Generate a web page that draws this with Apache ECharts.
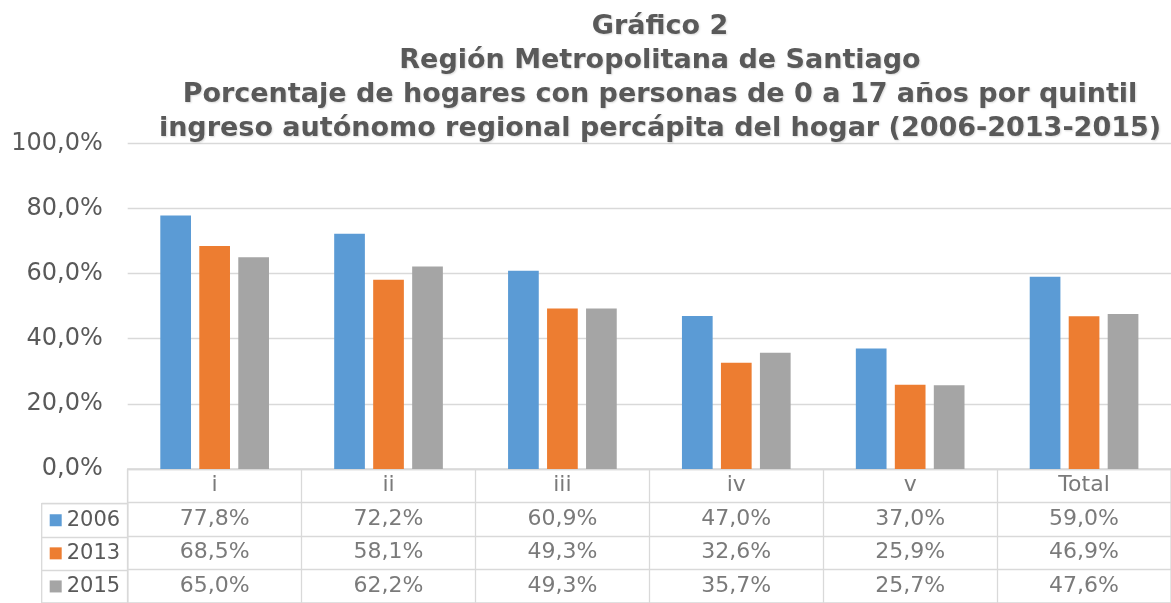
<!DOCTYPE html>
<html>
<head>
<meta charset="utf-8">
<script src="https://cdn.jsdelivr.net/npm/echarts@6/dist/echarts.min.js"></script>
<style>
  html, body { margin: 0; padding: 0; background: #fff; }
  #chart { width: 1171px; height: 603px; }
</style>
</head>
<body>
<div id="chart"></div>
<script>
// datos del gráfico
const categories = ['i', 'ii', 'iii', 'iv', 'v', 'Total'];
const years = ['2006', '2013', '2015'];
const values2006 = [77.8, 72.2, 60.9, 47.0, 37.0, 59.0];
const values2013 = [68.5, 58.1, 49.3, 32.6, 25.9, 46.9];
const values2015 = [65.0, 62.2, 49.3, 35.7, 25.7, 47.6];
const yTicks = [0, 20, 40, 60, 80, 100];
const titleLines = [
  'Gráfico 2',
  'Región Metropolitana de Santiago',
  'Porcentaje de hogares con personas de 0 a 17 años por quintil',
  'ingreso autónomo regional percápita del hogar (2006-2013-2015)'
];

const colors = ['#5B9BD5', '#ED7D31', '#A5A5A5'];
const textColor = '#595959';
const lineColor = '#D9D9D9';
const font = 'DejaVu Sans';

const fmt = v => v.toFixed(1).replace('.', ',') + '%';

// celdas de la tabla de datos
const seriesValues = [values2006, values2013, values2015];
const cells = [];
const cellText = [];
categories.forEach(c => {
  cells.push([c, 'header']);
  cellText.push(c);
});
seriesValues.forEach((vals, r) => {
  vals.forEach((v, i) => {
    cells.push([categories[i], years[r]]);
    cellText.push(fmt(v));
  });
});

const legendRich = { t: { fontSize: 21, fontFamily: font, color: textColor, padding: [0, 0, 0, 5] } };
colors.forEach((c, i) => {
  legendRich['m' + i] = { width: 12, height: 12, backgroundColor: c };
});

const chart = echarts.init(document.getElementById('chart'));
chart.setOption({
  animation: false,
  textStyle: { fontFamily: font },
  title: {
    text: titleLines.join('\n'),
    left: 660,
    top: 10,
    padding: 0,
    textAlign: 'center',
    textStyle: {
      fontSize: 27,
      fontWeight: 'bold',
      lineHeight: 34,
      color: textColor,
      fontFamily: font,
      textShadowColor: 'rgba(0,0,0,0.15)',
      textShadowBlur: 2,
      textShadowOffsetX: 1,
      textShadowOffsetY: 1
    }
  },
  grid: [
    { left: 127.7, right: -11.5, top: 143.3, height: 325.7 },
    { left: 127.7, right: -11.5, top: 469, height: 138.8, show: true, borderColor: lineColor, borderWidth: 1.3 },
    { left: 41.7, width: 86, top: 503.7, height: 104.1, show: true, borderColor: lineColor, borderWidth: 1.3 }
  ],
  xAxis: [
    {
      type: 'category', gridIndex: 0, data: categories,
      axisLine: { show: false }, axisTick: { show: false }, axisLabel: { show: false }
    },
    {
      type: 'category', gridIndex: 1, data: categories,
      axisLine: { show: false }, axisTick: { show: false }, axisLabel: { show: false },
      splitLine: { show: true, interval: 0, lineStyle: { color: lineColor, width: 1.3 } }
    },
    { type: 'value', gridIndex: 2, show: false, min: 0, max: 1 }
  ],
  yAxis: [
    {
      type: 'value', gridIndex: 0,
      min: yTicks[0], max: yTicks[yTicks.length - 1], interval: yTicks[1] - yTicks[0],
      axisLine: { show: false }, axisTick: { show: false },
      axisLabel: { formatter: v => fmt(v), fontSize: 24, color: textColor, margin: 25, fontFamily: font },
      splitLine: { lineStyle: { color: lineColor, width: 1.3 } }
    },
    {
      type: 'category', gridIndex: 1, data: ['header'].concat(years), inverse: true,
      axisLine: { show: false }, axisTick: { show: false }, axisLabel: { show: false },
      splitLine: { show: true, interval: 0, lineStyle: { color: lineColor, width: 1.3 } }
    },
    {
      type: 'category', gridIndex: 2, data: years, inverse: true,
      axisLine: { show: false }, axisTick: { show: false },
      splitLine: { show: true, interval: 0, lineStyle: { color: lineColor, width: 1.3 } },
      axisLabel: {
        inside: true, margin: 8, interval: 0,
        formatter: (v, i) => '{m' + i + '|}{t|' + v + '}',
        rich: legendRich
      }
    }
  ],
  series: [
    ...seriesValues.map((vals, i) => ({
      name: years[i],
      type: 'bar',
      xAxisIndex: 0,
      yAxisIndex: 0,
      data: vals,
      barWidth: 30.7,
      barGap: '27%',
      itemStyle: { color: colors[i] }
    })),
    {
      type: 'scatter',
      xAxisIndex: 1,
      yAxisIndex: 1,
      data: cells,
      symbolSize: 1,
      silent: true,
      itemStyle: { color: 'rgba(0,0,0,0)' },
      label: {
        show: true,
        position: 'inside',
        formatter: p => cellText[p.dataIndex],
        fontSize: 22,
        color: textColor,
        fontFamily: font
      }
    }
  ]
});
</script>
</body>
</html>
